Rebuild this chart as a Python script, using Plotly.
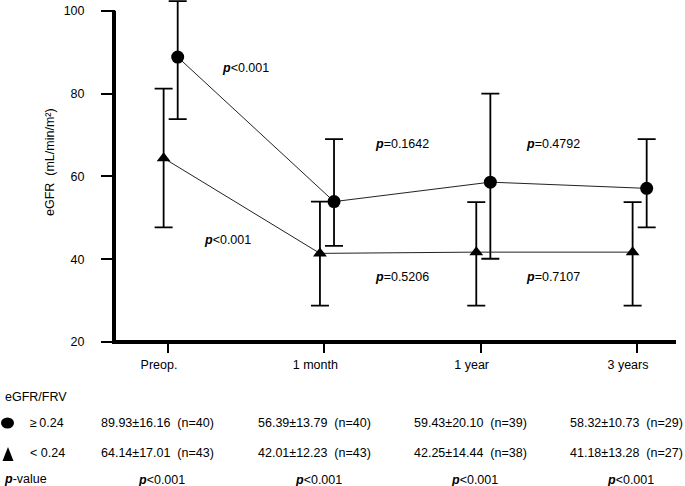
import plotly.graph_objects as go

# ---------------- data ----------------
categories = ["Preop.", "1 month", "1 year", "3 years"]

# values plotted in the chart
high_mean = [88.8, 53.9, 58.6, 57.1]
high_upper = [102.3, 69.0, 80.0, 69.0]
high_lower = [73.8, 43.2, 40.1, 47.7]

low_mean = [64.4, 41.4, 41.7, 41.7]
low_upper = [81.2, 53.9, 53.8, 53.8]
low_lower = [47.7, 28.8, 28.8, 28.8]

# p-values between consecutive time points
high_interval_p = ["<0.001", "=0.1642", "=0.4792"]
low_interval_p = ["<0.001", "=0.5206", "=0.7107"]

# table below the chart
group_labels = ["\u2265\u202f0.24", "< 0.24"]
high_tab_mean = ["89.93", "56.39", "59.43", "58.32"]
high_tab_sd = ["16.16", "13.79", "20.10", "10.73"]
high_tab_n = [40, 40, 39, 29]
low_tab_mean = ["64.14", "42.01", "42.25", "41.18"]
low_tab_sd = ["17.01", "12.23", "14.44", "13.28"]
low_tab_n = [43, 43, 38, 27]
group_p = ["<0.001", "<0.001", "<0.001", "<0.001"]

y_ticks = [20, 40, 60, 80, 100]

# ---------------- layout helpers ----------------
W, H = 685, 486
L, R, T, B = 116, 676, 0, 342   # plot area in px
Y100 = 10.7                      # pixel row of y=100
FONT = "Liberation Sans, Arial, Helvetica, sans-serif"
FS = 12.5
YSCALE = (B - Y100) / 80.0
YTOP = 20 + (B - T) / YSCALE


def px(x):
    return (x - L) / (R - L)


def py(y):
    return (B - y) / (B - T)


def pv(s):
    return "<b><i>p</i></b>" + s.replace("<", "&lt;")


idx = list(range(len(categories)))
x_high = [i + 0.062 for i in idx]
x_low = [i - 0.028 for i in idx]

fig = go.Figure()

fig.add_trace(go.Scatter(
    x=x_high, y=high_mean, mode="lines+markers",
    line=dict(color="#222", width=1),
    marker=dict(symbol="circle", size=13, color="black"),
    error_y=dict(type="data", symmetric=False,
                 array=[u - m for u, m in zip(high_upper, high_mean)],
                 arrayminus=[m - lo for m, lo in zip(high_mean, high_lower)],
                 color="black", thickness=1.8, width=9),
    cliponaxis=False, showlegend=False, hoverinfo="skip"))

fig.add_trace(go.Scatter(
    x=x_low, y=low_mean, mode="lines+markers",
    line=dict(color="#222", width=1),
    marker=dict(symbol="triangle-up", size=12, color="black"),
    error_y=dict(type="data", symmetric=False,
                 array=[u - m for u, m in zip(low_upper, low_mean)],
                 arrayminus=[m - lo for m, lo in zip(low_mean, low_lower)],
                 color="black", thickness=1.8, width=9),
    cliponaxis=False, showlegend=False, hoverinfo="skip"))

ann = []
# interval p-values inside the plot
hi_pos = [(220, 68), (373, 144), (524, 144)]
lo_pos = [(202, 240), (373, 277), (524, 277)]
for s, (ax_, ay_) in zip(high_interval_p, hi_pos):
    ann.append(dict(text=pv(s), x=px(ax_), y=py(ay_), xref="paper", yref="paper",
                    xanchor="left", yanchor="middle", showarrow=False))
for s, (ax_, ay_) in zip(low_interval_p, lo_pos):
    ann.append(dict(text=pv(s), x=px(ax_), y=py(ay_), xref="paper", yref="paper",
                    xanchor="left", yanchor="middle", showarrow=False))

# y-axis title
ann.append(dict(text="eGFR\u00a0\u00a0(mL/min/m\u00b2)", x=px(50), y=py(162),
                xref="paper", yref="paper", textangle=-90,
                xanchor="center", yanchor="middle", showarrow=False))

# table
ann.append(dict(text="eGFR/FRV", x=px(3), y=py(397), xref="paper", yref="paper",
                xanchor="left", yanchor="middle", showarrow=False))
ann.append(dict(text=group_labels[0], x=px(28), y=py(423), xref="paper", yref="paper",
                xanchor="left", yanchor="middle", showarrow=False))
ann.append(dict(text=group_labels[1], x=px(28), y=py(453), xref="paper", yref="paper",
                xanchor="left", yanchor="middle", showarrow=False))
ann.append(dict(text=pv("-value"), x=px(2), y=py(479), xref="paper", yref="paper",
                xanchor="left", yanchor="middle", showarrow=False))
for i in idx:
    ann.append(dict(text=f"{high_tab_mean[i]}\u00b1{high_tab_sd[i]}\u00a0\u00a0(n={high_tab_n[i]})",
                    x=i - 0.064, y=py(423), xref="x", yref="paper",
                    xanchor="center", yanchor="middle", showarrow=False))
    ann.append(dict(text=f"{low_tab_mean[i]}\u00b1{low_tab_sd[i]}\u00a0\u00a0(n={low_tab_n[i]})",
                    x=i - 0.064, y=py(453), xref="x", yref="paper",
                    xanchor="center", yanchor="middle", showarrow=False))
    ann.append(dict(text=pv(group_p[i]), x=i - 0.04, y=py(480), xref="x", yref="paper",
                    xanchor="center", yanchor="middle", showarrow=False))

shapes = [
    # axis lines
    dict(type="line", xref="paper", yref="paper", x0=px(114), x1=px(114),
         y0=py(344), y1=py(Y100), line=dict(color="black", width=4)),
    dict(type="line", xref="paper", yref="paper", x0=px(112), x1=px(R),
         y0=py(B), y1=py(B), line=dict(color="black", width=4)),
    # table symbols
    dict(type="circle", xref="paper", yref="paper", xsizemode="pixel", ysizemode="pixel",
         xanchor=px(7.5), yanchor=py(423), x0=-6.5, x1=6.5, y0=-5.5, y1=5.5,
         fillcolor="black", line=dict(width=0)),
    dict(type="path", xref="paper", yref="paper", xsizemode="pixel", ysizemode="pixel",
         xanchor=px(8), yanchor=py(454), path="M-5.5,-7 L5.5,-7 L0,7 Z",
         fillcolor="black", line=dict(width=0)),
]

fig.update_layout(
    width=W, height=H,
    margin=dict(l=L, r=W - R, t=T, b=H - B, pad=0),
    paper_bgcolor="white", plot_bgcolor="white",
    font=dict(family=FONT, size=FS, color="black"),
    annotations=ann, shapes=shapes,
    xaxis=dict(range=[(L - 168) / 156.33, (R - 168) / 156.33],
               tickvals=idx, ticktext=categories,
               showline=False,
               ticks="outside", ticklen=10, tickwidth=1.5, tickcolor="black",
               ticklabelshift=-9, ticklabelstandoff=1,
               showgrid=False, zeroline=False,
               tickfont=dict(family=FONT, size=FS)),
    yaxis=dict(range=[20, YTOP], tickvals=y_ticks,
               showline=False,
               ticks="outside", ticklen=14, tickwidth=1.5, tickcolor="black",
               ticklabelstandoff=14, showgrid=False, zeroline=False,
               tickfont=dict(family=FONT, size=FS)),
)

fig.write_html(
    "out.html",
    config={"displayModeBar": False},
    post_script="document.body.style.margin='0';document.body.style.overflow='hidden';",
)
